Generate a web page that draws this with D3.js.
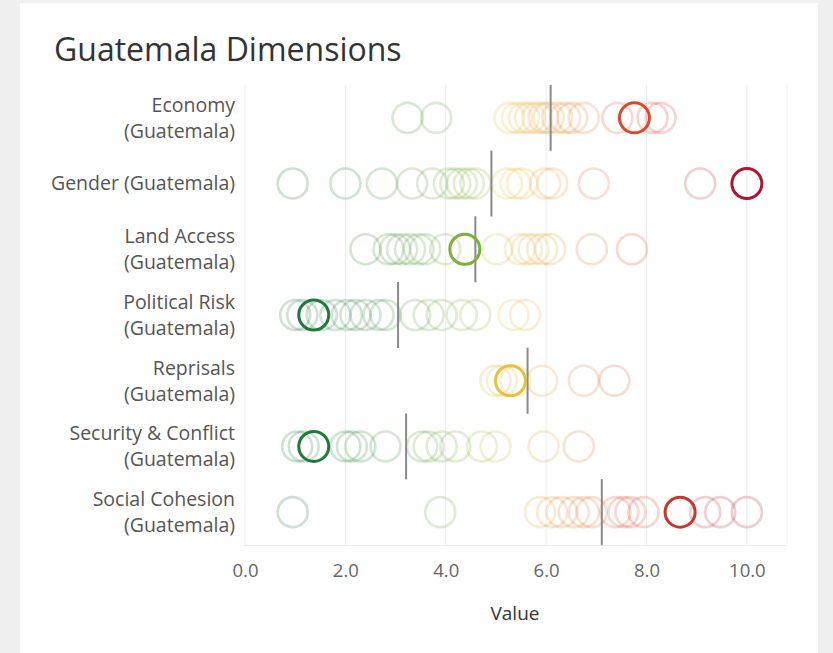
<!DOCTYPE html>
<html>
<head>
<meta charset="utf-8">
<script src="https://cdn.jsdelivr.net/npm/d3@7"></script>
<style>
  body { margin: 0; background: #f0f0f0; }
  svg { display: block; }
  text { font-family: "Open Sans", Lato, sans-serif; }
</style>
</head>
<body>
<svg id="chart" width="833" height="653"></svg>
<script>
var svg = d3.select("#chart");

// row labels (two lines where the original wraps)
var dimensions = ["Economy", "Gender", "Land Access", "Political Risk", "Reprisals", "Security & Conflict", "Social Cohesion"];
var labelLines = [
  ["Economy", "(Guatemala)"],
  ["Gender (Guatemala)"],
  ["Land Access", "(Guatemala)"],
  ["Political Risk", "(Guatemala)"],
  ["Reprisals", "(Guatemala)"],
  ["Security & Conflict", "(Guatemala)"],
  ["Social Cohesion", "(Guatemala)"]
];

// values of the other countries, one list per dimension
var otherValues = [
  [3.24, 3.81, 5.27, 5.42, 5.56, 5.68, 5.82, 5.95, 6.05, 6.22, 6.38, 6.52, 6.75, 7.42, 8.12, 8.28],
  [0.95, 2.0, 2.73, 3.33, 3.73, 4.06, 4.19, 4.32, 4.46, 4.59, 5.22, 5.39, 5.52, 5.98, 6.12, 6.95, 9.07],
  [2.4, 2.86, 2.99, 3.13, 3.29, 3.46, 3.59, 3.99, 5.02, 5.48, 5.62, 5.75, 5.92, 6.08, 6.91, 7.71],
  [1.0, 1.14, 1.53, 1.8, 2.03, 2.2, 2.4, 2.66, 2.8, 3.39, 3.66, 3.92, 4.32, 4.59, 5.35, 5.58],
  [4.99, 5.12, 5.39, 5.92, 6.75, 7.36],
  [1.04, 1.17, 2.0, 2.13, 2.3, 2.8, 3.53, 3.66, 3.92, 4.19, 4.72, 4.99, 5.95, 6.65],
  [0.95, 3.89, 5.88, 6.12, 6.31, 6.55, 6.75, 6.91, 7.38, 7.54, 7.68, 7.94, 9.17, 9.47, 10.0]
];

// Guatemala's own value per dimension
var guatemalaValues = [7.76, 10.0, 4.38, 1.37, 5.29, 1.37, 8.67];

// reference line per dimension
var referenceValues = [6.09, 4.91, 4.59, 3.05, 5.63, 3.21, 7.11];

var xTicks = [0, 2, 4, 6, 8, 10];

// panel
svg.append("rect")
  .attr("x", 20).attr("y", 3)
  .attr("width", 798).attr("height", 650)
  .attr("fill", "#ffffff");

svg.append("text")
  .attr("x", 54).attr("y", 61)
  .attr("font-size", 32)
  .attr("fill", "#333")
  .text("Guatemala Dimensions");

var xScale = d3.scaleLinear().domain([0, 10.8]).range([245, 787]);
var yScale = d3.scaleBand().domain(dimensions).range([85, 545]).padding(0);

var colorScale = d3.scaleLinear()
  .domain([0, 2, 4.4, 5.3, 7.7, 10])
  .range(["#1a6a33", "#23803d", "#7fae3c", "#e8c13b", "#db4a2b", "#b01530"]);

// gridlines
svg.append("g")
  .selectAll("line")
  .data(xTicks)
  .enter().append("line")
  .attr("x1", function (d) { return xScale(d); })
  .attr("x2", function (d) { return xScale(d); })
  .attr("y1", 85).attr("y2", 545)
  .attr("stroke", "#ededed")
  .attr("stroke-width", 1);

svg.append("line")
  .attr("x1", 787).attr("x2", 787).attr("y1", 85).attr("y2", 545)
  .attr("stroke", "#f2f2f2");
svg.append("line")
  .attr("x1", 244).attr("x2", 787).attr("y1", 545.5).attr("y2", 545.5)
  .attr("stroke", "#ececec");

// x axis
var bottomAxis = d3.axisBottom(xScale)
  .tickValues(xTicks)
  .tickSize(0)
  .tickPadding(19)
  .tickFormat(d3.format(".1f"));
var axisG = svg.append("g")
  .attr("transform", "translate(0,545)")
  .call(bottomAxis);
axisG.select(".domain").remove();
axisG.selectAll("text")
  .attr("font-size", 18.5)
  .attr("fill", "#666")
  .style("font-family", "'Open Sans', sans-serif");

svg.append("text")
  .attr("x", 515).attr("y", 620)
  .attr("text-anchor", "middle")
  .attr("font-size", 19)
  .attr("fill", "#333")
  .text("Value");

// row labels
dimensions.forEach(function (dim, i) {
  var cy = yScale(dim) + yScale.bandwidth() / 2;
  var lines = labelLines[i];
  var start = cy - (lines.length - 1) * 13;
  lines.forEach(function (line, j) {
    svg.append("text")
      .attr("x", 235)
      .attr("y", start + j * 26)
      .attr("dy", "0.35em")
      .attr("text-anchor", "end")
      .attr("font-size", 19.5)
      .attr("fill", "#555")
      .text(line);
  });
});

var r = 15;

// faded circles for the other countries
dimensions.forEach(function (dim, i) {
  var cy = yScale(dim) + yScale.bandwidth() / 2;
  svg.append("g")
    .selectAll("circle")
    .data(otherValues[i])
    .enter().append("circle")
    .attr("cx", function (d) { return xScale(d); })
    .attr("cy", cy)
    .attr("r", r)
    .attr("fill", "none")
    .attr("stroke", function (d) { return colorScale(d); })
    .attr("stroke-width", 2.6)
    .attr("stroke-opacity", 0.22);
});

// reference lines
svg.append("g")
  .selectAll("line")
  .data(referenceValues)
  .enter().append("line")
  .attr("x1", function (d) { return xScale(d); })
  .attr("x2", function (d) { return xScale(d); })
  .attr("y1", function (d, i) { return yScale(dimensions[i]) + yScale.bandwidth() / 2 - 33; })
  .attr("y2", function (d, i) { return yScale(dimensions[i]) + yScale.bandwidth() / 2 + 33; })
  .attr("stroke", "#8a8a8a")
  .attr("stroke-width", 2);

// Guatemala highlighted
svg.append("g")
  .selectAll("circle")
  .data(guatemalaValues)
  .enter().append("circle")
  .attr("cx", function (d) { return xScale(d); })
  .attr("cy", function (d, i) { return yScale(dimensions[i]) + yScale.bandwidth() / 2; })
  .attr("r", r)
  .attr("fill", "none")
  .attr("stroke", function (d) { return colorScale(d); })
  .attr("stroke-width", 3);
</script>
</body>
</html>
